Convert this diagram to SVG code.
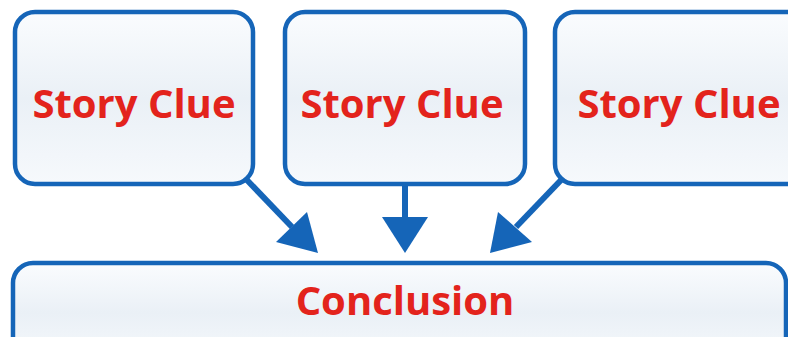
<svg xmlns="http://www.w3.org/2000/svg" width="788" height="337" viewBox="0 0 788 337">
<style>
.box{fill:url(#g);stroke:#1565b8;stroke-width:4.5}
.t{font-family:"Open Sans","Noto Sans","Liberation Sans",sans-serif;font-weight:bold;fill:#e3231c;text-anchor:middle}
.c{stroke:#1565b8;stroke-width:6;fill:none}
.h{fill:#1565b8}
</style>
<defs>
<linearGradient id="g" x1="0" y1="0" x2="0" y2="1">
<stop offset="0" stop-color="#fafcfe"/>
<stop offset="0.5" stop-color="#eaf0f6"/>
<stop offset="1" stop-color="#f6f9fc"/>
</linearGradient>
</defs>
<rect width="788" height="337" fill="#ffffff"/>
<g id="connectors">
<line class="c" x1="245" y1="178" x2="292" y2="227"/>
<polygon class="h" points="318,253 276,242 307,212"/>
<line class="c" x1="405" y1="184" x2="405" y2="220"/>
<polygon class="h" points="405,253 382,217 428,217"/>
<line class="c" x1="563" y1="178" x2="516" y2="227"/>
<polygon class="h" points="490,253 498,212 532,242"/>
</g>
<g id="clue1">
<rect class="box" x="15" y="12" width="238" height="172" rx="20"/>
<text class="t" x="134" y="118" font-size="40">Story Clue</text>
</g>
<g id="clue2">
<rect class="box" x="285" y="12" width="240" height="172" rx="20"/>
<text class="t" x="402" y="118" font-size="40">Story Clue</text>
</g>
<g id="clue3">
<rect class="box" x="555" y="12" width="260" height="172" rx="20"/>
<text class="t" x="679" y="118" font-size="40">Story Clue</text>
</g>
<g id="conclusion">
<rect class="box" x="13" y="263" width="773" height="100" rx="20"/>
<text class="t" x="405" y="315" font-size="40">Conclusion</text>
</g>
</svg>
